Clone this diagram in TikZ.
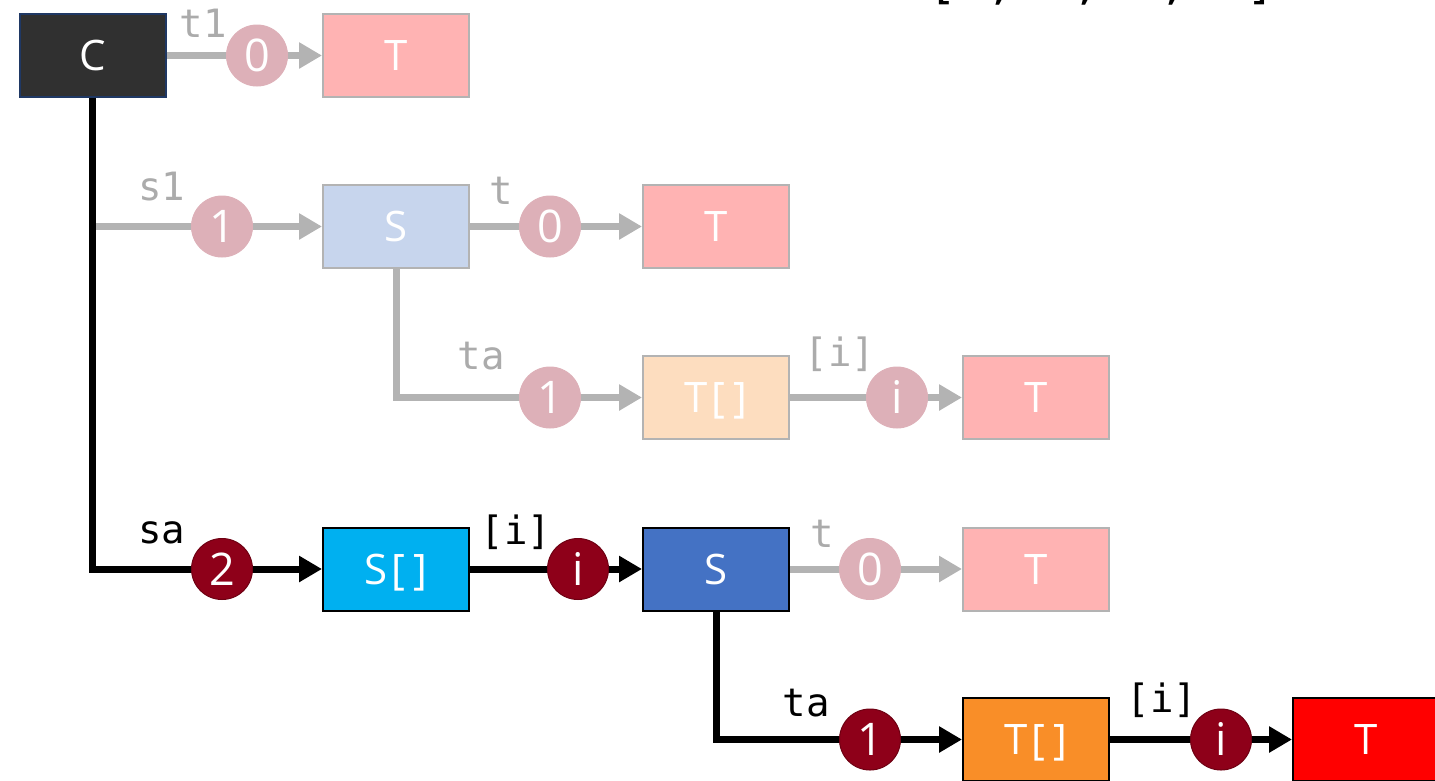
\documentclass[tikz,border=0pt]{standalone}
\usepackage{fontspec}
\usetikzlibrary{arrows.meta}
\newfontfamily\boxfont{Open Sans}
\newfontfamily\labfont{DejaVu Sans Mono}
\definecolor{fadeline}{HTML}{B3B3B3}
\definecolor{fadelab}{HTML}{ABABAB}
\definecolor{dred}{HTML}{8E0019}
\definecolor{dredb}{HTML}{6E0012}
\definecolor{fred}{HTML}{DDB0B8}
\definecolor{cfill}{HTML}{303030}
\definecolor{cborder}{HTML}{1F3864}
\definecolor{tfade}{HTML}{FFB3B3}
\definecolor{sfade}{HTML}{C7D5ED}
\definecolor{tafade}{HTML}{FDDDBF}
\definecolor{sarr}{HTML}{00B0F0}
\definecolor{sblue}{HTML}{4472C4}
\definecolor{tarr}{HTML}{F98E28}
\definecolor{tred}{HTML}{FF0000}
\tikzset{
  box/.style={draw=black, line width=2pt, minimum width=146pt, minimum height=83pt,
    inner sep=0pt, text=white, text height=30pt, text depth=0pt,
    font={\boxfont\fontsize{42pt}{50pt}\selectfont}},
  fbox/.style={box, draw=fadeline},
  circ/.style={circle, minimum size=61pt, inner sep=0pt, text=white, text height=32pt, text depth=0pt,
    font={\boxfont\fontsize{45pt}{52pt}\selectfont}, fill=dred, draw=dredb, line width=1pt},
  fcirc/.style={circ, fill=fred, draw=fred},
  lab/.style={font={\labfont\fontsize{39pt}{46pt}\selectfont}, anchor=base, inner sep=0pt, text=black},
  flab/.style={lab, text=fadelab},
  bline/.style={line width=7pt, draw=black},
  gline/.style={line width=7pt, draw=fadeline},
  arr/.style={-{Triangle[length=23pt, width=25pt]}}
}
\newcommand{\brk}[1]{#1\kern4pt[\kern8pt]}
\begin{document}
\begin{tikzpicture}[x=1pt, y=-1pt]
\useasboundingbox (0,0) rectangle (1435,780);
\clip (0,0) rectangle (1435,780);
% boxes
\node[box, fill=cfill, draw=cborder] (C) at (92.5,55.5) {C};
\node[fbox, fill=tfade] (T1) at (396,55.5) {T};
\node[fbox, fill=sfade] (S1) at (396,226.5) {S};
\node[fbox, fill=tfade] (T2) at (716,226.5) {T};
\node[fbox, fill=tafade] (TA1) at (716,397.5) {\brk{T}};
\node[fbox, fill=tfade] (T3) at (1036,397.5) {T};
\node[box, fill=sarr] (SA) at (396,569) {\brk{S}};
\node[box, fill=sblue] (S2) at (716,569) {S};
\node[fbox, fill=tfade] (T4) at (1036,569) {T};
\node[box, fill=tarr] (TA2) at (1036,739.5) {\brk{T}};
\node[box, fill=tred] (T5) at (1366,739.5) {T};
% connectors (faded)
\draw[gline, arr] (C.east) -- (T1.west);
\draw[gline, arr] (C.south |- S1.west) -- (S1.west);
\draw[gline, arr] (S1.east) -- (T2.west);
\draw[gline, arr] (S1.south) |- (TA1.west);
\draw[gline, arr] (TA1.east) -- (T3.west);
\draw[gline, arr] (S2.east) -- (T4.west);
% connectors (highlighted)
\draw[bline, arr] (C.south) |- (SA.west);
\draw[bline, arr] (SA.east) -- (S2.west);
\draw[bline, arr] (S2.south) |- (TA2.west);
\draw[bline, arr] (TA2.east) -- (T5.west);
% index circles
\node[fcirc] (c1) at (257,55.5) {0};
\node[fcirc] (c2) at (222,226.5) {1};
\node[fcirc] (c3) at (550,226.5) {0};
\node[fcirc] (c4) at (550,397.5) {1};
\node[fcirc] (c5) at (897,397.5) {i};
\node[circ] (c6) at (222,569) {2};
\node[circ] (c7) at (578,569) {i};
\node[fcirc] (c8) at (870,569) {0};
\node[circ] (c9) at (870,739.5) {1};
\node[circ] (c10) at (1221,739.5) {i};
% labels
\node[flab] (l1) at (203,37) {t1};
\node[flab] (l2) at (162,200) {s1};
\node[flab] (l3) at (501,204) {t};
\node[flab] (l4) at (481,369) {ta};
\node[flab] (l5) at (840,366) {[i]};
\node[lab] (l6) at (162,543) {sa};
\node[lab] (l7) at (516,544) {[i]};
\node[flab] (l8) at (822,547) {t};
\node[lab] (l9) at (806,716) {ta};
\node[lab] (l10) at (1162,712) {[i]};
% partly visible path text at top
\node[lab, anchor=base west, font={\labfont\fontsize{48pt}{56pt}\selectfont}] (path) at (928,-2) {[2, i, 1, i]};
\end{tikzpicture}
\end{document}
